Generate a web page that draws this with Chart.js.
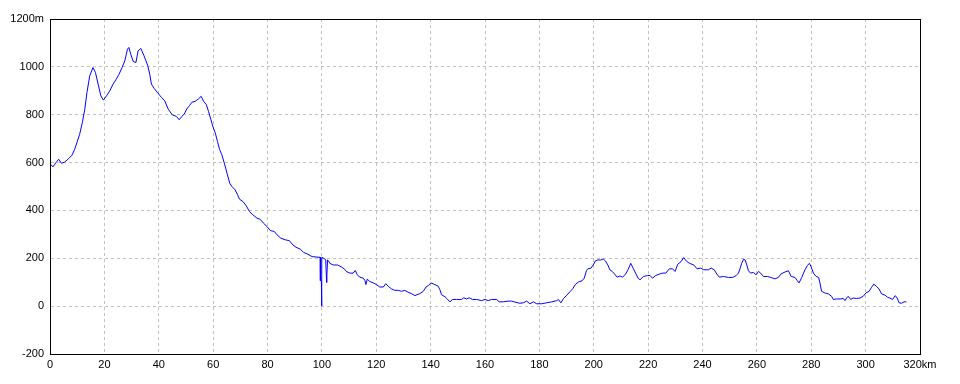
<!DOCTYPE html>
<html>
<head>
<meta charset="utf-8">
<script src="https://cdn.jsdelivr.net/npm/chart.js@4/dist/chart.umd.min.js"></script>
<style>
    body { margin: 0; background: #fff; }
</style>
</head>
<body>
<canvas id="profile" width="960" height="384"></canvas>
<script>
// distance along the route (km) and elevation (m)
var distKm = [
    0, 1.1, 2.2, 3.2, 4.2, 5.4, 6.9, 8.1, 9.1, 10.1,
    10.9, 11.9, 12.8, 13.6, 14.6, 15.8, 16.7, 17.7, 18.7, 19.6,
    20.8, 22, 23.2, 24.4, 25.4, 26.5, 27.5, 28.5, 29, 29.7,
    30.6, 31.6, 32.4, 33.4, 34.6, 35.9, 36.7, 37.3, 38.3, 39.5,
    41, 42.2, 43.5, 45, 46.5, 47.5, 48.5, 49.4, 50.3, 51.3,
    52.2, 53.4, 54.6, 55.6, 56.5, 57.5, 58.3, 59.2, 59.9, 60.8,
    61.6, 62.4, 63.2, 64.1, 65.1, 66.1, 66.9, 68.1, 69, 69.7,
    71, 72.2, 73.4, 74.6, 76.1, 77.3, 78.5, 79.8, 81, 82.5,
    83.5, 84.9, 86.6, 88, 89.3, 90.5, 92.1, 93.3, 94.5, 96.4,
    98.2, 99.4, 99.45, 99.8, 99.9, 100, 100.6, 101.4, 101.75, 101.85,
    102.1, 102.4, 102.9, 104.2, 105.8, 107.3, 108.4, 109, 110.3, 111.5,
    112.3, 113, 114, 115.2, 115.8, 116.2, 116.7, 117.6, 118.9, 120.1,
    121.3, 122.6, 123.5, 124.4, 125.6, 126.8, 128.1, 129.3, 130.5, 131.7,
    133, 134.2, 135, 136, 137.3, 138.3, 139.1, 140.1, 141.6, 142.8,
    143.4, 144, 145.3, 146.1, 147.1, 148.1, 149.5, 151.4, 152.2, 153.2,
    154.2, 155.4, 156.9, 158.7, 160, 161.2, 162.4, 164.3, 165.2, 166.7,
    168.5, 169.8, 171, 172.8, 174.1, 175.3, 176.5, 177.8, 179, 180.9,
    182.7, 184.6, 186.4, 187, 187.9, 188.9, 190.1, 191.4, 192.3, 193.2,
    194.4, 195.7, 196.5, 197.3, 197.8, 199, 199.8, 200.6, 201.5, 202.5,
    203.5, 204.3, 205.2, 205.9, 206.8, 207.7, 208.6, 209.6, 210.6, 211.7,
    212.6, 213.6, 214.6, 215.4, 216.3, 217, 218.3, 219.8, 220.7, 221.6,
    222.8, 224.1, 225.3, 226.5, 227.8, 229, 229.9, 230.9, 232.1, 233.1,
    234, 235.2, 236.8, 238, 239.3, 240.4, 242.2, 243.2, 244.3, 245.3,
    246.2, 247.7, 249.5, 251.1, 252.4, 253.2, 253.8, 254.4, 255.1, 255.7,
    256.3, 256.9, 257.7, 258.7, 259.7, 260.6, 261.4, 262.4, 263.9, 265.1,
    266.7, 267.9, 268.8, 270, 271.6, 272.6, 274, 274.9, 275.5, 276.5,
    277.7, 278.6, 279.3, 279.9, 280.8, 281.8, 282.7, 283.2, 283.8, 285,
    286.3, 287.5, 288.1, 289.3, 290.6, 291.8, 292.4, 293, 293.6, 294.5,
    295.4, 296.7, 297.9, 299.1, 300.1, 301.3, 302.2, 303, 304, 304.9,
    305.9, 307.1, 308.1, 308.9, 309.9, 310.9, 311.6, 312.3, 313.2, 314.1, 315
];
var elevM = [
    595, 582, 600, 614, 597, 602, 617, 631, 656, 690,
    718, 767, 823, 893, 962, 997, 977, 928, 879, 861,
    879, 900, 928, 949, 969, 997, 1025, 1074, 1081, 1053,
    1023, 1018, 1067, 1077, 1046, 1007, 969, 928, 910, 893,
    872, 858, 823, 799, 793, 779, 793, 803, 824, 838,
    852, 856, 866, 877, 856, 842, 814, 779, 751, 723,
    688, 654, 633, 598, 556, 514, 500, 486, 465, 447,
    437, 419, 395, 382, 368, 363, 347, 333, 316, 312,
    298, 284, 277, 274, 256, 246, 238, 224, 219, 207,
    205, 204, 107, 107, 0, 204, 200, 195, 99, 130,
    193, 190, 179, 172, 172, 163, 154, 145, 138, 138,
    149, 131, 121, 117, 108, 90, 113, 103, 97, 90,
    80, 80, 94, 83, 72, 66, 66, 62, 66, 58,
    52, 44, 48, 52, 62, 80, 86, 97, 90, 83,
    69, 48, 39, 30, 18, 28, 28, 28, 35, 30,
    35, 28, 28, 23, 28, 23, 28, 28, 18, 18,
    21, 21, 17, 12, 14, 21, 10, 18, 10, 10,
    14, 18, 23, 28, 14, 32, 46, 62, 73, 90,
    101, 106, 117, 148, 156, 159, 172, 189, 193, 193,
    197, 189, 172, 152, 145, 134, 121, 126, 121, 134,
    152, 179, 156, 138, 117, 110, 124, 128, 128, 117,
    128, 134, 138, 138, 156, 156, 145, 175, 186, 203,
    189, 179, 172, 156, 159, 152, 152, 159, 152, 134,
    121, 124, 120, 120, 128, 138, 156, 179, 196, 193,
    172, 148, 138, 141, 131, 145, 138, 124, 124, 120,
    114, 120, 134, 141, 148, 124, 120, 106, 97, 120,
    152, 170, 179, 166, 138, 124, 120, 97, 62, 55,
    51, 41, 28, 30, 30, 32, 23, 34, 41, 28,
    34, 32, 34, 41, 55, 62, 79, 92, 83, 72,
    51, 46, 37, 34, 28, 44, 34, 14, 12, 18, 18
];

// axis ranges and tick steps
var xRange = [0, 320];
var xStep = 20;
var yRange = [-200, 1200];
var yStep = 200;

var points = [];
for (var i = 0; i < distKm.length; i++) {
    points.push({ x: distKm[i], y: elevM[i] });
}

var tickFont = { family: "Liberation Sans", size: 11 };

// black frame round the plot area
var framePlugin = {
    id: "frame",
    afterDraw: function (chart) {
        var a = chart.chartArea;
        var ctx = chart.ctx;
        ctx.save();
        ctx.strokeStyle = "#000";
        ctx.lineWidth = 1;
        ctx.strokeRect(Math.round(a.left) + 0.5, Math.round(a.top) + 0.5,
            Math.round(a.right - a.left), Math.round(a.bottom - a.top));
        ctx.restore();
    }
};

var ctx = document.getElementById("profile").getContext("2d");
var chart = new Chart(ctx, {
    type: "line",
    data: {
        datasets: [
            {
                data: points,
                borderColor: "#0000ff",
                borderWidth: 1,
                pointRadius: 0,
                tension: 0,
                fill: false,
            },
        ],
    },
    options: {
        responsive: false,
        animation: false,
        devicePixelRatio: 1,
        layout: { padding: { top: 19, right: 40, bottom: 0, left: 0 } },
        plugins: {
            legend: { display: false },
            tooltip: { enabled: false },
        },
        scales: {
            x: {
                type: "linear",
                min: xRange[0],
                max: xRange[1],
                afterFit: function (scale) { scale.height = 30; },
                ticks: {
                    stepSize: xStep,
                    color: "#000",
                    font: tickFont,
                    padding: 4,
                    maxRotation: 0,
                    callback: function (v) { return v === xRange[1] ? v + "km" : v; },
                },
                grid: { color: "#c0c0c0", drawTicks: false },
                border: { display: true, color: "#000", dash: [3, 3] },
            },
            y: {
                min: yRange[0],
                max: yRange[1],
                afterFit: function (scale) { scale.width = 50; },
                ticks: {
                    stepSize: yStep,
                    color: "#000",
                    font: tickFont,
                    padding: 6,
                    callback: function (v) { return v === yRange[1] ? v + "m" : v; },
                },
                grid: { color: "#c0c0c0", drawTicks: false },
                border: { display: true, color: "#000", dash: [3, 3] },
            },
        },
    },
    plugins: [framePlugin],
});
</script>
</body>
</html>
